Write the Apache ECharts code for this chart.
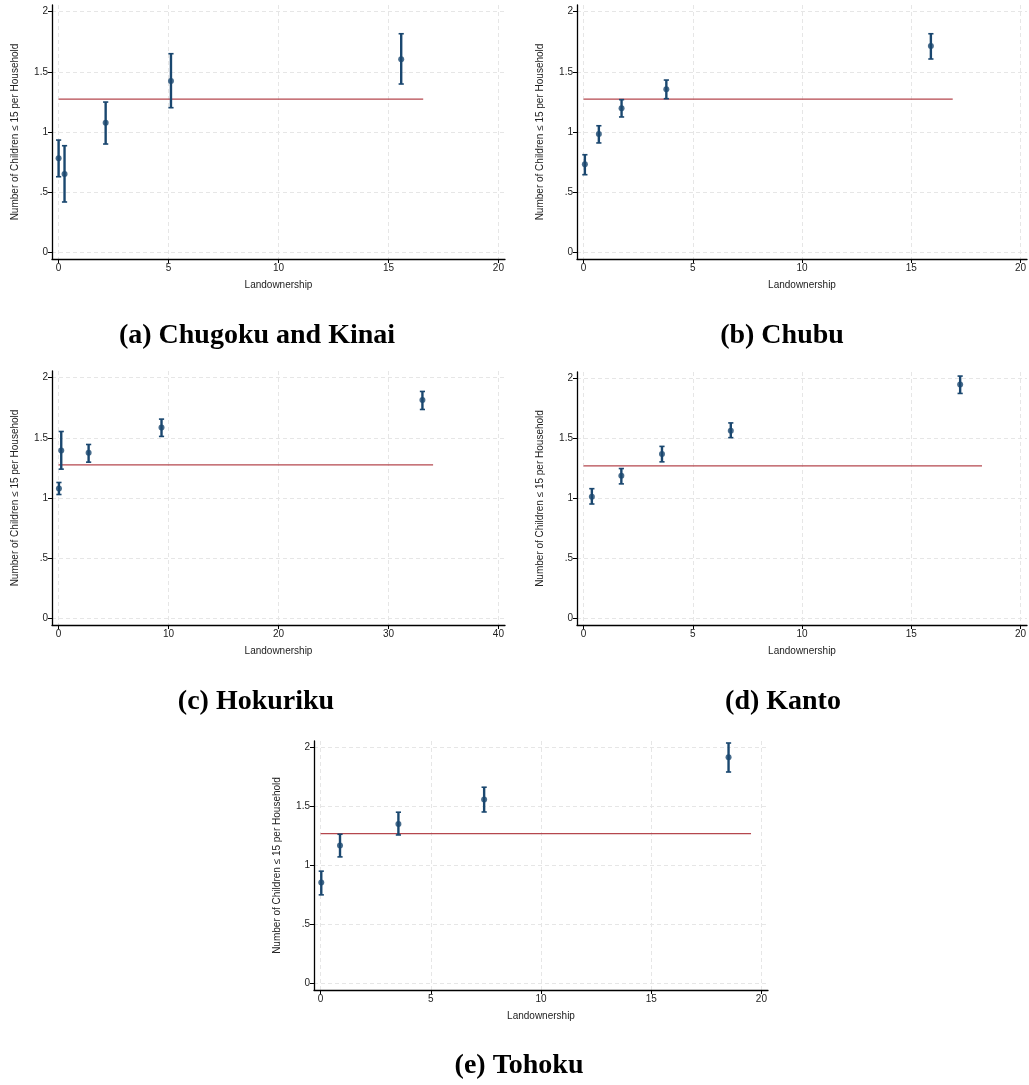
<!DOCTYPE html>
<html>
<head>
<meta charset="utf-8">
<script src="https://cdn.jsdelivr.net/npm/echarts@6/dist/echarts.min.js"></script>
<style>
html,body{margin:0;padding:0;background:#fff;}
#c{width:1029px;height:1085px;}
</style>
</head>
<body>
<div id="c"></div>
<script>
// ---- data ----
const captions = ['(a) Chugoku and Kinai', '(b) Chubu', '(c) Hokuriku', '(d) Kanto', '(e) Tohoku'];

const xA  = [0.00, 0.27, 2.14, 5.11, 15.58];
const yA  = [0.781, 0.651, 1.077, 1.424, 1.604];
const loA = [0.628, 0.418, 0.900, 1.202, 1.399];
const hiA = [0.933, 0.886, 1.249, 1.651, 1.817];

const xB  = [0.06, 0.70, 1.74, 3.79, 15.90];
const yB  = [0.731, 0.983, 1.197, 1.355, 1.715];
const loB = [0.645, 0.909, 1.125, 1.277, 1.607];
const hiB = [0.811, 1.052, 1.269, 1.432, 1.817];

const xC  = [0.03, 0.24, 2.73, 9.36, 33.09];
const yC  = [1.079, 1.395, 1.376, 1.587, 1.814];
const loC = [1.029, 1.240, 1.298, 1.512, 1.736];
const hiC = [1.129, 1.553, 1.445, 1.656, 1.886];

const xD  = [0.38, 1.73, 3.59, 6.74, 17.24];
const yD  = [1.015, 1.189, 1.371, 1.566, 1.952];
const loD = [0.954, 1.122, 1.306, 1.508, 1.877];
const hiD = [1.082, 1.250, 1.435, 1.631, 2.022];

const xE  = [0.03, 0.88, 3.53, 7.42, 18.51];
const yE  = [0.856, 1.169, 1.353, 1.559, 1.918];
const loE = [0.751, 1.073, 1.259, 1.454, 1.793];
const hiE = [0.952, 1.265, 1.452, 1.664, 2.039];

const meanLevel = [1.274, 1.274, 1.276, 1.273, 1.271];
const meanLineStart = [0, 0, 0, 0, 0];
const meanLineEnd = [16.58, 16.90, 34.06, 18.24, 19.53];

const xTicks20 = [0, 5, 10, 15, 20];
const xTicks40 = [0, 10, 20, 30, 40];
const yTicks = [0, 0.5, 1, 1.5, 2];

const panelX = [xA, xB, xC, xD, xE];
const panelY = [yA, yB, yC, yD, yE];
const panelLo = [loA, loB, loC, loD, loE];
const panelHi = [hiA, hiB, hiC, hiD, hiE];
const panelXTicks = [xTicks20, xTicks20, xTicks40, xTicks20, xTicks20];

// ---- layout ----
const grids = [
  {left: 52,  top: 5,   width: 453, height: 254},
  {left: 577, top: 5,   width: 452, height: 254},
  {left: 52,  top: 371, width: 453, height: 254},
  {left: 577, top: 372, width: 452, height: 253},
  {left: 314, top: 741, width: 454, height: 249}
];
const captionPos = [[257, 336], [782, 336], [256, 702], [783, 702], [519, 1066]];

const NAVY = '#1a476f';
const RED = '#b5474e';
const fontFam = '"Liberation Sans", Arial, Helvetica, sans-serif';

function fmtY(v) {
  if (v === 0) return '0';
  return String(v).replace(/^0\./, '.');
}

const xAxes = [], yAxes = [], series = [], graphics = [];
for (let i = 0; i < 5; i++) {
  const ticks = panelXTicks[i];
  const span = ticks[ticks.length - 1] - ticks[0];
  const pad = span * 0.015;
  xAxes.push({
    type: 'value', gridIndex: i,
    min: ticks[0] - pad, max: ticks[ticks.length - 1] + pad,
    name: 'Landownership', nameLocation: 'middle', nameGap: 21,
    nameTextStyle: {fontFamily: fontFam, fontSize: 10, color: '#222'},
    axisLine: {show: true, onZero: false, lineStyle: {color: '#000', width: 1.3}},
    axisTick: {show: true, length: 4, customValues: ticks, lineStyle: {color: '#000', width: 1}},
    axisLabel: {customValues: ticks, fontFamily: fontFam, fontSize: 10, color: '#222', margin: 4},
    splitLine: {show: true, lineStyle: {color: '#e6e6e6', type: [4, 3], width: 1}}
  });
  yAxes.push({
    type: 'value', gridIndex: i,
    min: -0.056, max: 2.056,
    name: 'Number of Children \u2264 15 per Household', nameLocation: 'middle', nameGap: 32,
    nameRotate: 90,
    nameTextStyle: {fontFamily: fontFam, fontSize: 10, color: '#222'},
    axisLine: {show: true, onZero: false, lineStyle: {color: '#000', width: 1.3}},
    axisTick: {show: true, length: 4, customValues: yTicks, lineStyle: {color: '#000', width: 1}},
    axisLabel: {customValues: yTicks, formatter: fmtY, fontFamily: fontFam, fontSize: 10, color: '#222', margin: 4},
    splitLine: {show: true, lineStyle: {color: '#e6e6e6', type: [4, 3], width: 1}}
  });

  // mean line
  series.push({
    type: 'line', xAxisIndex: i, yAxisIndex: i, z: 2,
    symbol: 'none', silent: true,
    lineStyle: {color: RED, width: 1.3},
    data: [[meanLineStart[i], meanLevel[i]], [meanLineEnd[i], meanLevel[i]]]
  });

  // error bars
  const ebData = panelX[i].map((x, k) => [x, panelLo[i][k], panelHi[i][k]]);
  series.push({
    type: 'custom', xAxisIndex: i, yAxisIndex: i, z: 3,
    encode: {x: 0, y: [1, 2]},
    data: ebData,
    renderItem: function (params, api) {
      const x = api.value(0), lo = api.value(1), hi = api.value(2);
      const pH = api.coord([x, hi]);
      const pL = api.coord([x, lo]);
      const cw = 2.6;
      const st = {stroke: NAVY, lineWidth: 2.4, fill: null};
      return {
        type: 'group',
        children: [
          {type: 'line', shape: {x1: pH[0], y1: pH[1], x2: pL[0], y2: pL[1]}, style: st},
          {type: 'line', shape: {x1: pH[0] - cw, y1: pH[1], x2: pH[0] + cw, y2: pH[1]}, style: {stroke: NAVY, lineWidth: 1.6}},
          {type: 'line', shape: {x1: pL[0] - cw, y1: pL[1], x2: pL[0] + cw, y2: pL[1]}, style: {stroke: NAVY, lineWidth: 1.6}}
        ]
      };
    }
  });

  // points
  series.push({
    type: 'scatter', xAxisIndex: i, yAxisIndex: i, z: 4,
    symbol: 'circle', symbolSize: 6,
    itemStyle: {color: NAVY},
    data: panelX[i].map((x, k) => [x, panelY[i][k]])
  });

  graphics.push({
    type: 'text', x: captionPos[i][0], y: captionPos[i][1],
    style: {
      text: captions[i], textAlign: 'center', textVerticalAlign: 'middle',
      font: 'bold 28px "Liberation Serif", "Times New Roman", serif', fill: '#000'
    }
  });
}

const chart = echarts.init(document.getElementById('c'), null, {renderer: 'canvas'});
chart.setOption({
  animation: false,
  backgroundColor: '#fff',
  grid: grids.map(g => Object.assign({containLabel: false}, g)),
  xAxis: xAxes,
  yAxis: yAxes,
  series: series,
  graphic: graphics
});
</script>
</body>
</html>
